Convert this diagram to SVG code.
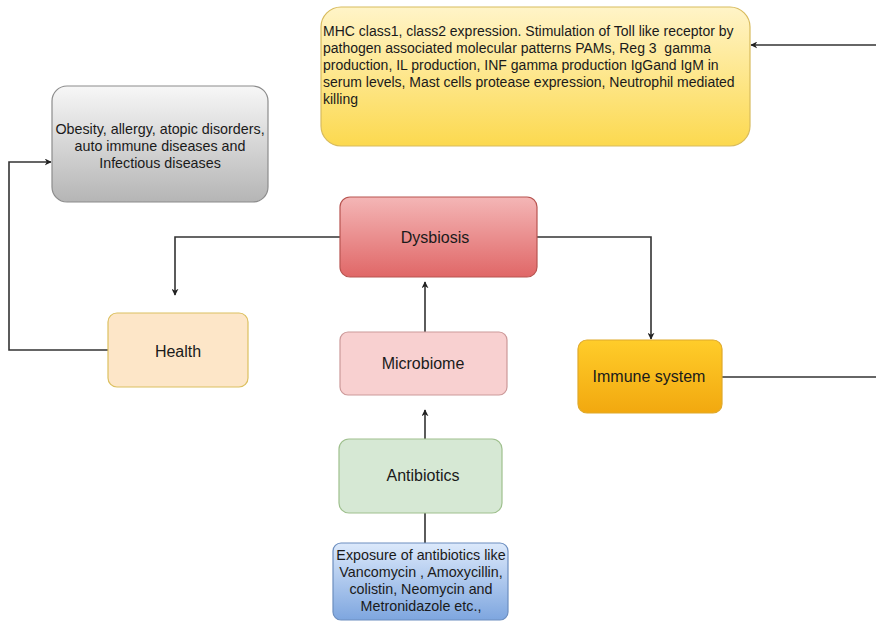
<svg xmlns="http://www.w3.org/2000/svg" width="876" height="621" viewBox="0 0 876 621">
<style>
text{font-family:"Liberation Sans",Arial,sans-serif;font-size:14.3px;fill:#1a1a1a}
.c{text-anchor:middle}
.m{font-size:14px}
.big{font-size:16px}
.ln{fill:none;stroke:#333;stroke-width:1.6}
</style>
<defs>
<marker id="ah" viewBox="0 0 10 10" refX="9" refY="5" markerWidth="7" markerHeight="7" orient="auto-start-reverse" markerUnits="userSpaceOnUse"><path d="M0,0 L10,5 L0,10 L3,5 Z" fill="#222"/></marker>
<linearGradient id="gY" x1="0" y1="0" x2="0" y2="1"><stop offset="0" stop-color="#fff4c8"/><stop offset="1" stop-color="#fcd94f"/></linearGradient>
<linearGradient id="gG" x1="0" y1="0" x2="0" y2="1"><stop offset="0" stop-color="#f7f7f7"/><stop offset="1" stop-color="#b5b5b5"/></linearGradient>
<linearGradient id="gR" x1="0" y1="0" x2="0" y2="1"><stop offset="0" stop-color="#f4b6b6"/><stop offset="1" stop-color="#e06767"/></linearGradient>
<linearGradient id="gO" x1="0" y1="0" x2="0" y2="1"><stop offset="0" stop-color="#ffcd2a"/><stop offset="1" stop-color="#f2a80f"/></linearGradient>
<linearGradient id="gB" x1="0" y1="0" x2="0" y2="1"><stop offset="0" stop-color="#dce9fb"/><stop offset="1" stop-color="#7ea6df"/></linearGradient>
</defs>
<g id="connectors">
<path class="ln" d="M876,45 L751,45" marker-end="url(#ah)"/>
<path class="ln" d="M340,237 L175,237 L175,295" marker-end="url(#ah)"/>
<path class="ln" d="M537,237 L651,237 L651,339" marker-end="url(#ah)"/>
<path class="ln" d="M108,350 L9,350 L9,162 L51,162" marker-end="url(#ah)"/>
<path class="ln" d="M425,332 L425,282" marker-end="url(#ah)"/>
<path class="ln" d="M722,377 L876,377"/>
<path class="ln" d="M425,439 L425,410" marker-end="url(#ah)"/>
<path class="ln" d="M425,543 L425,513"/>
</g>
<g id="mhc">
<rect x="321" y="7" width="429" height="139" rx="20" fill="url(#gY)" stroke="#d8bb5e" stroke-width="1.2"/>
<text class="m" x="323" y="36">MHC class1, class2 expression. Stimulation of Toll like receptor by</text>
<text class="m" x="323" y="53" style="white-space:pre">pathogen associated molecular patterns PAMs, Reg 3  gamma</text>
<text class="m" x="323" y="70">production, IL production, INF gamma production IgGand IgM in</text>
<text class="m" x="323" y="87">serum levels, Mast cells protease expression, Neutrophil mediated</text>
<text class="m" x="323" y="104">killing</text>
</g>
<g id="diseases">
<rect x="52" y="86" width="216" height="116" rx="15" fill="url(#gG)" stroke="#8c8c8c" stroke-width="1.2"/>
<text class="c" x="160" y="134">Obesity, allergy, atopic disorders,</text>
<text class="c" x="160" y="151">auto immune diseases and</text>
<text class="c" x="160" y="168">Infectious diseases</text>
</g>
<g id="dysbiosis">
<rect x="340" y="197" width="197" height="80" rx="10" fill="url(#gR)" stroke="#b85450" stroke-width="1.2"/>
<text class="c big" x="435" y="243">Dysbiosis</text>
</g>
<g id="health">
<rect x="108" y="313" width="140" height="74" rx="9" fill="#fde6c8" stroke="#dcc060" stroke-width="1.2"/>
<text class="c big" x="178" y="357">Health</text>
</g>
<g id="microbiome">
<rect x="340" y="332" width="167" height="63" rx="8" fill="#f8d0d0" stroke="#c99" stroke-width="1.2"/>
<text class="c big" x="423" y="369">Microbiome</text>
</g>
<g id="immune">
<rect x="578" y="340" width="144" height="73" rx="9" fill="url(#gO)" stroke="#e0a92a" stroke-width="1.2"/>
<text class="c big" x="649" y="382">Immune system</text>
</g>
<g id="antibiotics">
<rect x="339" y="439" width="163" height="74" rx="10" fill="#d6e8d4" stroke="#9fc08e" stroke-width="1.2"/>
<text class="c big" x="423" y="481">Antibiotics</text>
</g>
<g id="exposure">
<rect x="333" y="543" width="175" height="77" rx="8" fill="url(#gB)" stroke="#6c8ebf" stroke-width="1.2"/>
<text class="c" x="421" y="560">Exposure of antibiotics like</text>
<text class="c" x="421" y="577">Vancomycin , Amoxycillin,</text>
<text class="c" x="421" y="594">colistin, Neomycin and</text>
<text class="c" x="421" y="611">Metronidazole etc.,</text>
</g>
</svg>
